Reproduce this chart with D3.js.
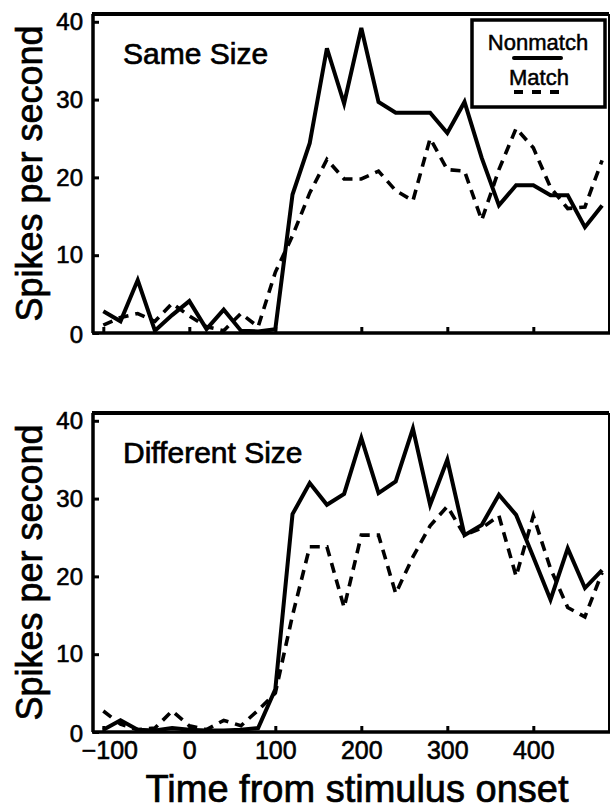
<!DOCTYPE html>
<html>
<head>
<meta charset="utf-8">
<script src="https://cdn.jsdelivr.net/npm/d3@7"></script>
<style>
  body { margin: 0; background: #fff; }
  text { font-family: "Liberation Sans", Arial, sans-serif; fill: #000; }
</style>
</head>
<body>
<script>

// time bins (ms from stimulus onset)
var times = [-100, -80, -60, -40, -20, 0, 20, 40, 60, 80, 100, 120, 140, 160, 180,
             200, 220, 240, 260, 280, 300, 320, 340, 360, 380, 400, 420, 440, 460, 480];

// Same Size panel (spikes/s)
var sameNonmatch = [2.8, 1.5, 6.8, 0.3, 2.3, 4.1, 0.5, 3.0, 0.3, 0.2, 0.5, 17.8, 24.4, 36.6, 29.5,
                    39.2, 29.7, 28.3, 28.3, 28.3, 25.7, 29.7, 22.5, 16.4, 19.0, 19.0, 17.7, 17.7, 13.6, 16.4];
var sameMatch = [1.0, 2.0, 2.5, 1.5, 3.8, 2.2, 0.8, 0.3, 2.5, 0.8, 7.8, 12.5, 18.0, 22.3, 19.8,
                 19.8, 20.8, 18.3, 17.0, 25.0, 21.0, 20.8, 14.5, 21.0, 26.3, 23.8, 18.7, 16.0, 16.2, 22.2];

// Different Size panel (spikes/s)
var diffNonmatch = [0.3, 1.5, 0.3, 0.2, 0.5, 0.3, 0.2, 0.2, 0.3, 0.5, 5.5, 28.0, 32.0, 29.2, 30.6,
                    37.8, 30.7, 32.2, 39.0, 29.2, 35.0, 25.3, 26.6, 30.5, 27.9, 22.5, 17.0, 23.6, 18.5, 20.8];
var diffMatch = [2.7, 1.0, 0.3, 0.5, 2.7, 0.8, 0.3, 1.5, 0.8, 2.8, 5.0, 15.0, 23.8, 23.8, 16.0,
                 25.3, 25.3, 17.8, 22.5, 26.5, 29.0, 25.3, 26.2, 27.8, 20.0, 27.8, 21.0, 16.0, 14.8, 20.5];

var yTicks = [0, 10, 20, 30, 40];
var xTicks = [-100, 0, 100, 200, 300, 400];
var panelTitles = ["Same Size", "Different Size"];
var legendLabels = ["Nonmatch", "Match"];

var svg = d3.select("body").append("svg")
    .attr("width", 612)
    .attr("height", 812);

var margin = {left: 93, right: 3},
    width = 612 - margin.left - margin.right,
    panelHeight = 319,
    panelTops = [14, 413];

var x = d3.scaleLinear()
    .domain([-112, 488])
    .range([margin.left, margin.left + width]);

function series(values) {
  return times.map(function(t, i) { return {t: t, v: values[i]}; });
}

function drawPanel(top, title, nonmatch, match, showXLabels) {
  var y = d3.scaleLinear()
      .domain([0, 41])
      .range([top + panelHeight, top]);

  var line = d3.line()
      .x(function(d) { return x(d.t); })
      .y(function(d) { return y(d.v); });

  var g = svg.append("g");

  // y axis, ticks pointing in
  var yAxis = g.append("g")
      .attr("transform", "translate(" + margin.left + ",0)")
      .call(d3.axisLeft(y).tickValues(yTicks).tickSizeInner(-6).tickSizeOuter(0).tickPadding(10));

  // x axis, ticks pointing in
  var xAxis = g.append("g")
      .attr("transform", "translate(0," + (top + panelHeight) + ")")
      .call(d3.axisBottom(x).tickValues(xTicks).tickSizeInner(-6).tickSizeOuter(0).tickPadding(9));

  [yAxis, xAxis].forEach(function(a) {
    a.select(".domain").remove();
    a.selectAll(".tick line").attr("stroke", "#000").attr("stroke-width", 3);
    a.selectAll(".tick text")
        .style("font-size", "25px")
        .attr("stroke", "#000")
        .attr("stroke-width", 0.6);
  });
  yAxis.selectAll(".tick text").style("font-size", "24px")
      .attr("dy", function(d) { return d === 0 ? "0.4em" : "0.32em"; });
  xAxis.selectAll(".tick text")
      .attr("dx", function(d) { return d < 0 ? 6 : 0; });
  if (!showXLabels) xAxis.selectAll(".tick text").remove();

  // frame
  var x0 = margin.left, x1 = margin.left + width, y0 = top, y1 = top + panelHeight;
  g.append("line").attr("x1", x0 - 1).attr("x2", x1).attr("y1", y0).attr("y2", y0)
      .attr("stroke", "#000").attr("stroke-width", 4);
  g.append("line").attr("x1", x0).attr("x2", x0).attr("y1", y0).attr("y2", y1)
      .attr("stroke", "#000").attr("stroke-width", 3.5);
  g.append("line").attr("x1", x0 - 1).attr("x2", x1 + 1).attr("y1", y1).attr("y2", y1)
      .attr("stroke", "#000").attr("stroke-width", 3.5);
  g.append("line").attr("x1", x1).attr("x2", x1).attr("y1", y0).attr("y2", y1)
      .attr("stroke", "#000").attr("stroke-width", 2);

  g.append("path")
      .datum(series(match))
      .attr("fill", "none")
      .attr("stroke", "#000")
      .attr("stroke-width", 3.6)
      .attr("stroke-dasharray", "10,7")
      .attr("d", line);

  g.append("path")
      .datum(series(nonmatch))
      .attr("fill", "none")
      .attr("stroke", "#000")
      .attr("stroke-width", 4)
      .attr("stroke-linejoin", "miter")
      .attr("d", line);

  g.append("text")
      .attr("x", 123)
      .attr("y", top + 50)
      .attr("stroke", "#000")
      .attr("stroke-width", 0.7)
      .style("font-size", "30px")
      .text(title);

  g.append("text")
      .attr("transform", "translate(42," + (top + panelHeight / 2) + ") rotate(-90)")
      .attr("text-anchor", "middle")
      .attr("stroke", "#000")
      .attr("stroke-width", 0.7)
      .style("font-size", "36px")
      .text("Spikes per second");

  return g;
}

var topPanel = drawPanel(panelTops[0], panelTitles[0], sameNonmatch, sameMatch, false);
drawPanel(panelTops[1], panelTitles[1], diffNonmatch, diffMatch, true);

// legend in top panel
var legend = topPanel.append("g");
legend.append("rect")
    .attr("x", 472).attr("y", 20)
    .attr("width", 133).attr("height", 87)
    .attr("fill", "#fff")
    .attr("stroke", "#000")
    .attr("stroke-width", 3.5);
legend.append("text")
    .attr("x", 538).attr("y", 50)
    .attr("text-anchor", "middle")
    .attr("stroke", "#000").attr("stroke-width", 0.5)
    .style("font-size", "22px")
    .text(legendLabels[0]);
legend.append("line")
    .attr("x1", 514).attr("x2", 561).attr("y1", 58).attr("y2", 58)
    .attr("stroke", "#000").attr("stroke-width", 4).attr("stroke-linecap", "round");
legend.append("text")
    .attr("x", 539).attr("y", 85)
    .attr("text-anchor", "middle")
    .attr("stroke", "#000").attr("stroke-width", 0.5)
    .style("font-size", "22px")
    .text(legendLabels[1]);
legend.append("line")
    .attr("x1", 514).attr("x2", 561).attr("y1", 92).attr("y2", 92)
    .attr("stroke", "#000").attr("stroke-width", 4)
    .attr("stroke-dasharray", "9,9");

svg.append("text")
    .attr("x", 357)
    .attr("y", 802)
    .attr("text-anchor", "middle")
    .attr("stroke", "#000")
    .attr("stroke-width", 0.7)
    .style("font-size", "38px")
    .text("Time from stimulus onset");

</script>
</body>
</html>
